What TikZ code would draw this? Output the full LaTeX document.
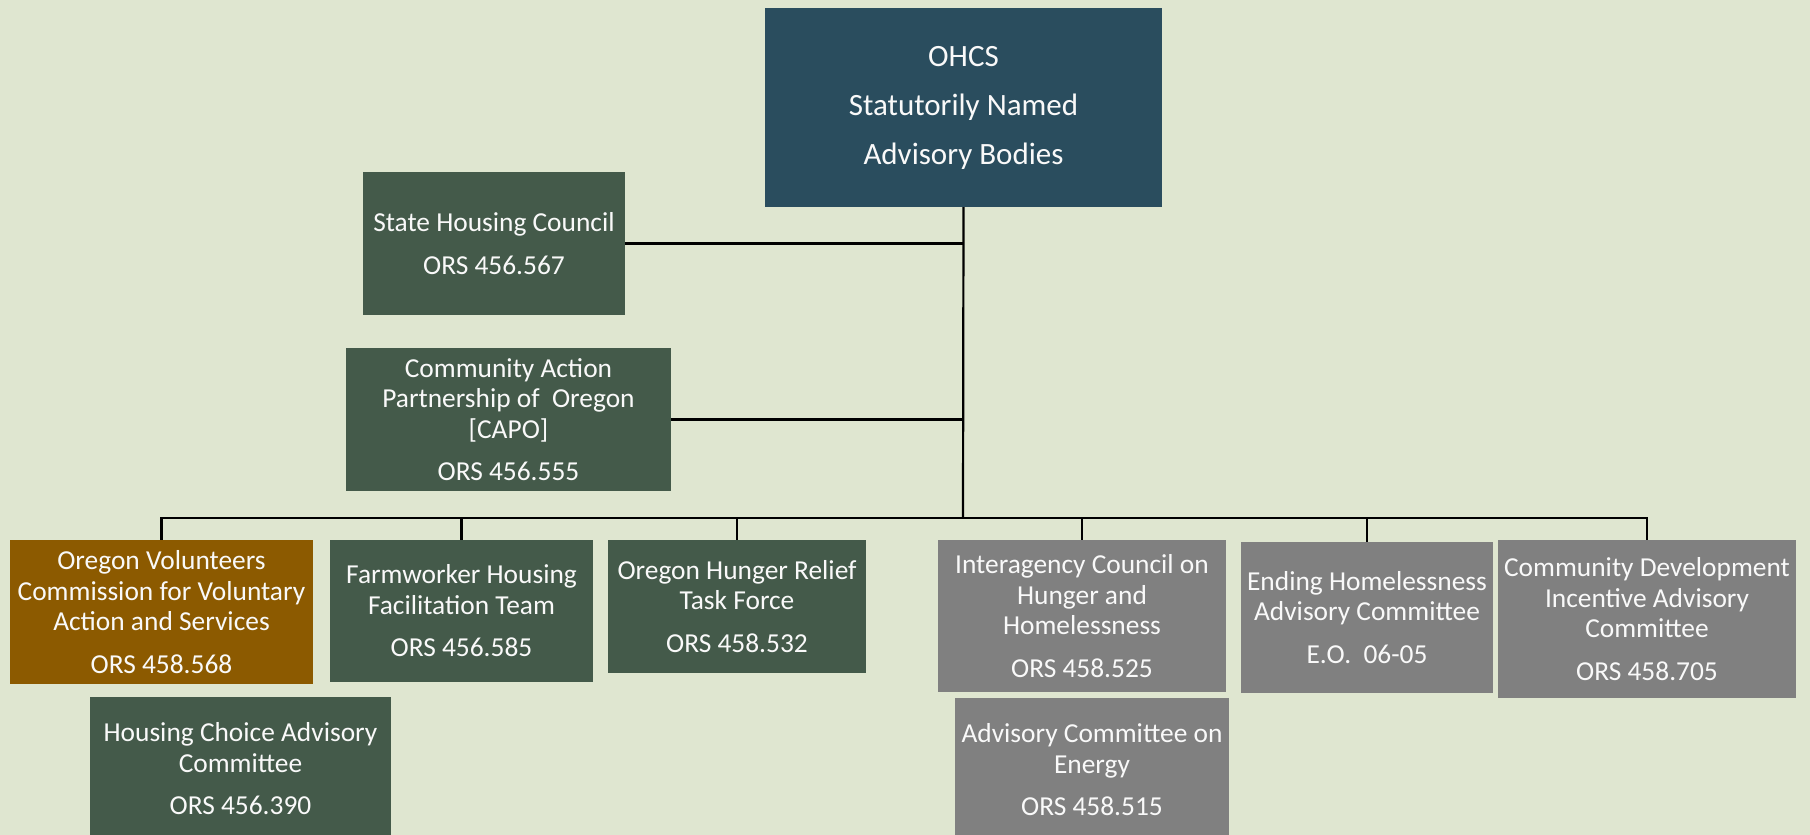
\documentclass[tikz,border=0pt]{standalone}
\usepackage{fontspec}
\setmainfont{Carlito}
\usepackage{xcolor}
\definecolor{sage}{RGB}{223,230,208}
\definecolor{pine}{RGB}{68,90,74}
\definecolor{slate}{RGB}{42,77,94}
\definecolor{ash}{RGB}{128,128,128}
\definecolor{ochre}{RGB}{140,90,0}
\newcommand\orsgap{\\[6pt]}

\begin{document}
\begin{tikzpicture}[
    x=0.5pt, y=-0.5pt,
    box/.style={fill=pine, text=white!95!gray, align=center, inner sep=0pt, outer sep=0pt,
      font=\fontsize{13.7}{15.25}\selectfont},
    grey/.style={box, fill=ash},
    wh/.style 2 args={minimum width=#1*0.5pt, minimum height=#2*0.5pt},
    link/.style={draw=black, line width=1.1pt}
  ]
  \fill[sage] (0,0) rectangle (1810,835);
  \useasboundingbox (0,0) rectangle (1810,835);
  \clip (0,0) rectangle (1810,835);

  % top and side bodies
  \node[box, fill=slate, wh={397}{199}, font=\fontsize{15.5}{24.5}\selectfont] (ohcs) at (963.5,107.5)
    {OHCS\\Statutorily Named\\Advisory Bodies};
  \node[box, wh={262}{143}] (shc) at (494,243.5) {State Housing Council\orsgap ORS 456.567};
  \node[box, wh={325}{143}] (capo) at (508.5,419.5)
    {Community Action\\Partnership of\ \ Oregon\\{[CAPO]}\orsgap ORS 456.555};

  % bottom row
  \node[box, fill=ochre, wh={303}{144}] (ovc) at (161.5,612)
    {Oregon Volunteers\\Commission for Voluntary\\Action and Services\orsgap ORS 458.568};
  \node[box, wh={263}{142}] (fhft) at (461.5,611)
    {Farmworker Housing\\Facilitation Team\orsgap ORS 456.585};
  \node[box, wh={258}{133}] (ohrtf) at (737,606.5)
    {Oregon Hunger Relief\\Task Force\orsgap ORS 458.532};
  \node[grey, wh={288}{152}] (icoh) at (1082,616)
    {Interagency Council on\\Hunger and\\Homelessness\orsgap ORS 458.525};
  \node[grey, wh={252}{151}] (ehac) at (1367,617.5)
    {Ending Homelessness\\Advisory Committee\orsgap E.O.\ \ 06-05};
  \node[grey, wh={298}{158}] (cdiac) at (1647,619)
    {Community Development\\Incentive Advisory\\Committee\orsgap ORS 458.705};

  % unlinked bodies
  \node[box, wh={301}{144}] (hcac) at (240.5,769)
    {Housing Choice Advisory\\Committee\orsgap ORS 456.390};
  \node[grey, wh={274}{144}] (acoe) at (1092,770)
    {Advisory Committee on\\Energy\orsgap ORS 458.515};

  \coordinate (bus) at (963,518);
  \draw[link] (ohcs.south) -- (bus);
  \draw[link] (shc.east) -- (shc.east -| ohcs.south);
  \draw[link] (capo.east) -- (capo.east -| ohcs.south);
  \foreach \n in {ovc,fhft,ohrtf,icoh,ehac,cdiac}
    \draw[link] (bus) -| (\n.north);
\end{tikzpicture}
\end{document}
